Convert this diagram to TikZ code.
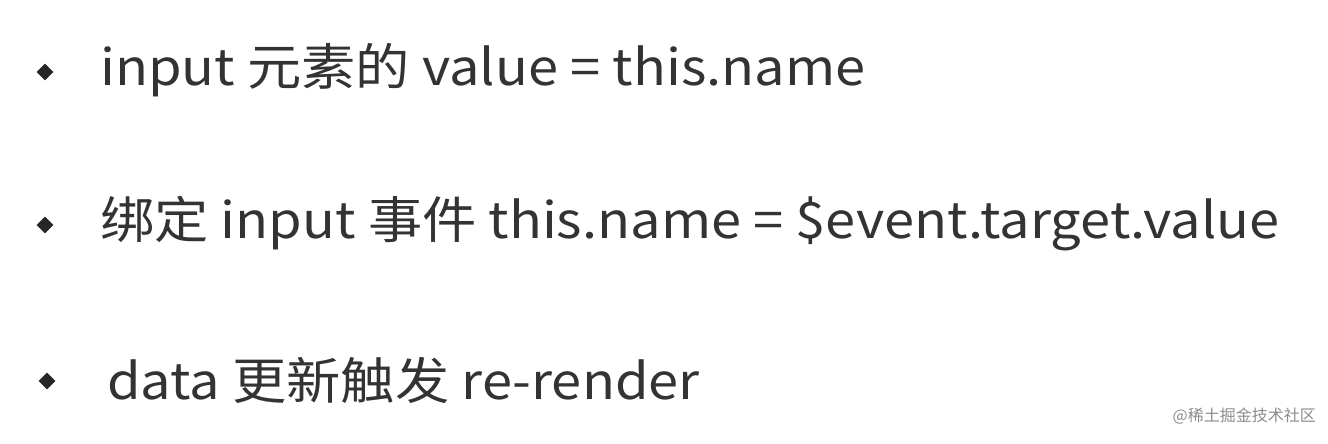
\documentclass[tikz,border=0pt]{standalone}
\usepackage{fontspec}
\usepackage{graphicx}
\setmainfont{Noto Sans CJK SC}
\newcommand{\wtext}[1]{\scalebox{1.085}[1]{#1}}
\begin{document}
\begin{tikzpicture}[x=1pt,y=-1pt,
  bul/.style={fill=black!85,shape=rectangle,rotate=45,inner sep=0pt,minimum size=12pt},
  line/.style={anchor=west,inner sep=0pt,font=\fontsize{50}{54}\selectfont,text=black!80}]
\useasboundingbox (0,0) rectangle (1328,444);
\node[bul] (b1) at (45,72) {};
\node[bul] (b2) at (45,225) {};
\node[bul] (b3) at (47,381) {};
\node[line] (t1) at (100,70) {\wtext{input 元素的 value = this.name}};
\node[line] (t2) at (100,224) {\wtext{绑定 input 事件 this.name = \$event.target.value}};
\node[line] (t3) at (107,380) {\wtext{data 更新触发 re-render}};
\node[anchor=east,inner sep=0pt,font=\fontsize{16}{18}\selectfont,text=black!45] (w) at (1316,416) {@稀土掘金技术社区};
\end{tikzpicture}
\end{document}
